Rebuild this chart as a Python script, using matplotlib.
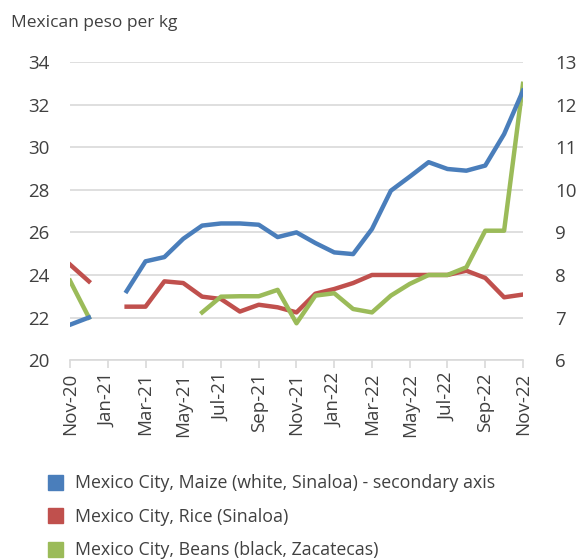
import numpy as np
import matplotlib.pyplot as plt
from matplotlib.lines import Line2D

# monthly, Nov-20 .. Nov-22
months = ['Nov-20', 'Dec-20', 'Jan-21', 'Feb-21', 'Mar-21', 'Apr-21', 'May-21',
          'Jun-21', 'Jul-21', 'Aug-21', 'Sep-21', 'Oct-21', 'Nov-21', 'Dec-21',
          'Jan-22', 'Feb-22', 'Mar-22', 'Apr-22', 'May-22', 'Jun-22', 'Jul-22',
          'Aug-22', 'Sep-22', 'Oct-22', 'Nov-22']
nan = np.nan

# secondary axis
maize = [6.83, 7.0, nan, 7.62, 8.32, 8.42, 8.85, 9.16, 9.21, 9.21, 9.18, 8.89,
         9.0, 8.75, 8.53, 8.49, 9.08, 9.98, 10.31, 10.65, 10.49, 10.45, 10.57,
         11.31, 12.33]
rice = [24.49, 23.7, nan, 22.51, 22.51, 23.7, 23.62, 22.98, 22.87, 22.28, 22.6,
        22.48, 22.24, 23.12, 23.34, 23.62, 24.0, 24.0, 24.0, 24.0, 24.0, 24.2,
        23.86, 22.95, 23.08]
beans = [23.73, 22.0, nan, nan, nan, nan, nan, 22.24, 22.98, 23.0, 23.0, 23.3,
         21.73, 23.03, 23.14, 22.4, 22.24, 23.03, 23.58, 24.0, 24.0, 24.36,
         26.08, 26.08, 32.98]

labels = ['Mexico City, Maize (white, Sinaloa) - secondary axis',
          'Mexico City, Rice (Sinaloa)',
          'Mexico City, Beans (black, Zacatecas)']
colors = ['#4a7ebb', '#c0504d', '#9bbb59']

plt.rcParams['font.family'] = ['Open Sans', 'DejaVu Sans']
txt = '#404040'
grid = '#d9d9d9'

fig = plt.figure(figsize=(5.8, 5.6), dpi=100)
ax = fig.add_axes([0.1207, 0.357, 0.781, 0.532])
ax2 = ax.twinx()

x = np.arange(len(months))
ax.plot(x, rice, color=colors[1], lw=3.2, solid_joinstyle='round', zorder=3)
ax.plot(x, beans, color=colors[2], lw=3.2, solid_joinstyle='round', zorder=4)
ax2.plot(x, maize, color=colors[0], lw=3.2, solid_joinstyle='round', zorder=3)

ax.set_xlim(0, len(months) - 1)
ax.set_ylim(20, 34)
ax.set_yticks(range(20, 35, 2))
ax2.set_ylim(6, 13)
ax2.set_yticks(range(6, 14))
ax.set_xticks(x[::2])
ax.set_xticklabels(months[::2], rotation=90)

ax.grid(axis='y', color=grid, lw=1.2)
ax.set_axisbelow(True)
for a in (ax, ax2):
    for s in a.spines.values():
        s.set_visible(False)
ax.spines['bottom'].set_visible(True)
ax.spines['bottom'].set_color(grid)
ax.spines['bottom'].set_linewidth(1.2)
ax.tick_params(axis='x', colors=grid, length=6, width=1.2, labelcolor=txt,
               labelsize=13.5, pad=3)
ax.tick_params(axis='y', length=0, labelcolor=txt, labelsize=13.5, pad=15)
ax2.tick_params(axis='y', length=0, labelcolor=txt, labelsize=13.5, pad=23)

fig.text(11 / 580, 1 - 27 / 560, 'Mexican peso per kg', color=txt,
         fontsize=12.5, va='baseline', ha='left')

handles = [Line2D([], [], marker='s', ls='none', markersize=10.8, color=c)
           for c in colors]
fig.legend(handles, labels, loc='upper left',
           bbox_to_anchor=(44 / 580, 1 - 474 / 560), frameon=False,
           fontsize=12.8, labelcolor=txt, labelspacing=0.88, borderpad=0,
           borderaxespad=0, handletextpad=0.55, handlelength=1.2)

fig.savefig('out.png', dpi=100)
